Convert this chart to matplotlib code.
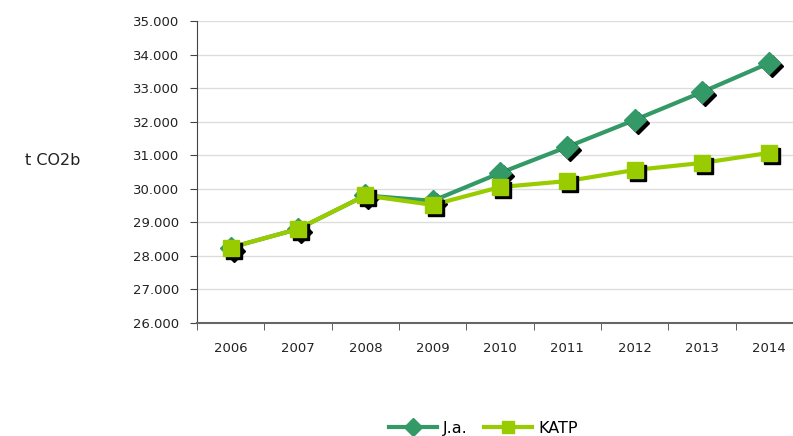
import matplotlib
matplotlib.use("Agg")
import matplotlib.pyplot as plt
import matplotlib.transforms as mtransforms
import numpy as np

years = ["2006", "2007", "2008", "2009", "2010", "2011", "2012", "2013", "2014"]
ja = [28250, 28800, 29800, 29640, 30470, 31250, 32050, 32880, 33750]
katp = [28250, 28800, 29800, 29520, 30050, 30230, 30560, 30770, 31070]

fig = plt.figure(figsize=(7.93, 4.36), dpi=100)
ax = fig.add_axes([197/793, 1 - 323/436, 606/793, 302/436])
x = np.arange(len(years))

c_ja = "#339966"
c_katp = "#99CC00"

# black drop shadow under the markers
shadow = mtransforms.offset_copy(ax.transData, fig=fig, x=3, y=-3, units="dots")

ax.plot(x, ja, color=c_ja, lw=3, zorder=3)
ax.plot(x, ja, "D", color="black", ms=11, transform=shadow, zorder=3.5)
ax.plot(x, ja, "D", color=c_ja, ms=11, zorder=4)

ax.plot(x, katp, color=c_katp, lw=3, zorder=5)
ax.plot(x, katp, "s", color="black", ms=12, transform=shadow, zorder=5.5)
ax.plot(x, katp, "s", color=c_katp, ms=12, zorder=6)

ax.set_xlim(-0.5, 8.5)
ax.set_ylim(26000, 35000)
ax.set_yticks(np.arange(26000, 35001, 1000))
ax.set_yticklabels([f"{v:,.0f}".replace(",", ".") for v in range(26000, 35001, 1000)])
ax.set_xticks(x)
ax.set_xticklabels(years)
ax.set_xticks(np.arange(-0.5, 9, 1), minor=True)
ax.tick_params(axis="x", which="major", length=0, pad=14, labelsize=9.5, colors="#222222")
ax.tick_params(axis="x", which="minor", length=5, color="#444444")
ax.tick_params(axis="y", length=5, color="#444444", labelsize=9.5, labelcolor="#222222", pad=8)

ax.grid(axis="y", color="#dddddd", lw=1)
ax.set_axisbelow(True)
for s in ["top", "right"]:
    ax.spines[s].set_visible(False)
ax.spines["left"].set_color("#444444")
ax.spines["bottom"].set_color("#666666")
ax.spines["bottom"].set_linewidth(1.5)

fig.text(25/793, 1 - 160/436, "t CO2b", fontsize=11.5, va="center", color="#222222")

h1, = ax.plot([], [], color=c_ja, lw=3, marker="D", ms=9)
h2, = ax.plot([], [], color=c_katp, lw=3, marker="s", ms=8)
fig.legend([h1, h2], ["J.a.", "KATP"], loc="center", bbox_to_anchor=(483/793, 1 - 428/436),
           ncol=2, frameon=False, fontsize=11.5, handlelength=3, columnspacing=1.0, handletextpad=0.4)

fig.savefig("out.png", dpi=100)
